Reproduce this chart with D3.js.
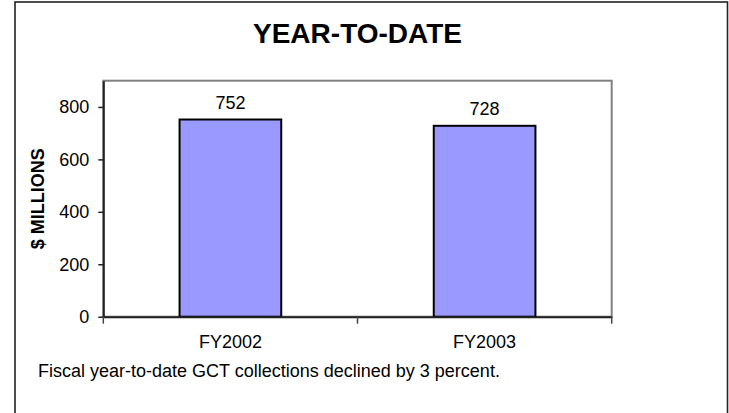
<!DOCTYPE html>
<html>
<head>
<meta charset="utf-8">
<script src="https://cdn.jsdelivr.net/npm/d3@7"></script>
<style>
  html, body { margin: 0; padding: 0; background: #fff; }
  svg { display: block; }
  text { font-family: "Liberation Sans", Arial, sans-serif; fill: #000; }
</style>
</head>
<body>
<svg id="chart" width="729" height="413"></svg>
<script>
const categories = ["FY2002", "FY2003"];
const values = [752, 728];
const yTicks = [0, 200, 400, 600, 800];
const yMax = 900;
const titleText = "YEAR-TO-DATE";
const yLabelText = "$ MILLIONS";
const noteText = "Fiscal year-to-date GCT collections declined by 3 percent.";

const W = 729, H = 413;
const plot = { left: 103.3, right: 611.7, top: 80.7, bottom: 316.7 };
const fs = 18;

const svg = d3.select("#chart");

// outer chart border
svg.append("rect")
  .attr("x", 15).attr("y", 2)
  .attr("width", 712.5).attr("height", 430)
  .attr("fill", "#fff").attr("stroke", "#222").attr("stroke-width", 1.6);

const x = d3.scaleBand().domain(categories).range([plot.left, plot.right]).padding(0);
const y = d3.scaleLinear().domain([0, yMax]).range([plot.bottom, plot.top]);

// plot area border (gray)
svg.append("rect")
  .attr("x", plot.left).attr("y", plot.top)
  .attr("width", plot.right - plot.left).attr("height", plot.bottom - plot.top)
  .attr("fill", "#fff").attr("stroke", "#808080").attr("stroke-width", 2);

// bars
const barW = x.bandwidth() * 0.4;
svg.append("g").selectAll("rect").data(values).join("rect")
  .attr("x", (d, i) => x(categories[i]) + (x.bandwidth() - barW) / 2)
  .attr("y", d => y(d))
  .attr("width", barW)
  .attr("height", d => y(0) - y(d))
  .attr("fill", "#9999FF")
  .attr("stroke", "#000")
  .attr("stroke-width", 2);

// value labels
svg.append("g").selectAll("text").data(values).join("text")
  .attr("x", (d, i) => x(categories[i]) + x.bandwidth() / 2)
  .attr("y", d => y(d) - 11)
  .attr("text-anchor", "middle")
  .attr("font-size", fs)
  .text(d => d);

// y axis
const yAxis = svg.append("g")
  .attr("transform", `translate(${plot.left},0)`)
  .call(d3.axisLeft(y).tickValues(yTicks).tickSize(5).tickSizeOuter(0).tickPadding(9));
yAxis.select(".domain").attr("stroke", "#222").attr("stroke-width", 2);
yAxis.selectAll(".tick line").attr("stroke", "#222").attr("stroke-width", 1.5);
yAxis.selectAll(".tick text").attr("font-size", fs)
  .attr("font-family", "Liberation Sans, Arial, sans-serif").attr("fill", "#000");

// x axis
const xAxis = svg.append("g")
  .attr("transform", `translate(0,${plot.bottom})`)
  .call(d3.axisBottom(x).tickSize(0).tickSizeOuter(0).tickPadding(19));
xAxis.select(".domain").attr("stroke", "#222").attr("stroke-width", 2);
xAxis.selectAll(".tick text").attr("font-size", fs)
  .attr("font-family", "Liberation Sans, Arial, sans-serif").attr("fill", "#000");
// category boundary ticks
const bounds = categories.map(c => x(c)).concat([x.range()[1]]);
xAxis.selectAll("line.bound").data(bounds).join("line")
  .attr("class", "bound")
  .attr("x1", d => d).attr("x2", d => d)
  .attr("y1", 0).attr("y2", 7)
  .attr("stroke", "#444").attr("stroke-width", 1.5);

// title
svg.append("text")
  .attr("x", (plot.left + plot.right) / 2)
  .attr("y", 43)
  .attr("text-anchor", "middle")
  .attr("font-size", 28)
  .attr("font-weight", "bold")
  .text(titleText);

// y axis label
svg.append("text")
  .attr("transform", `translate(44,${(plot.top + plot.bottom) / 2}) rotate(-90)`)
  .attr("text-anchor", "middle")
  .attr("font-size", fs)
  .attr("font-weight", "bold")
  .text(yLabelText);

// footnote
svg.append("text")
  .attr("x", 38)
  .attr("y", 377)
  .attr("font-size", fs)
  .text(noteText);
</script>
</body>
</html>
